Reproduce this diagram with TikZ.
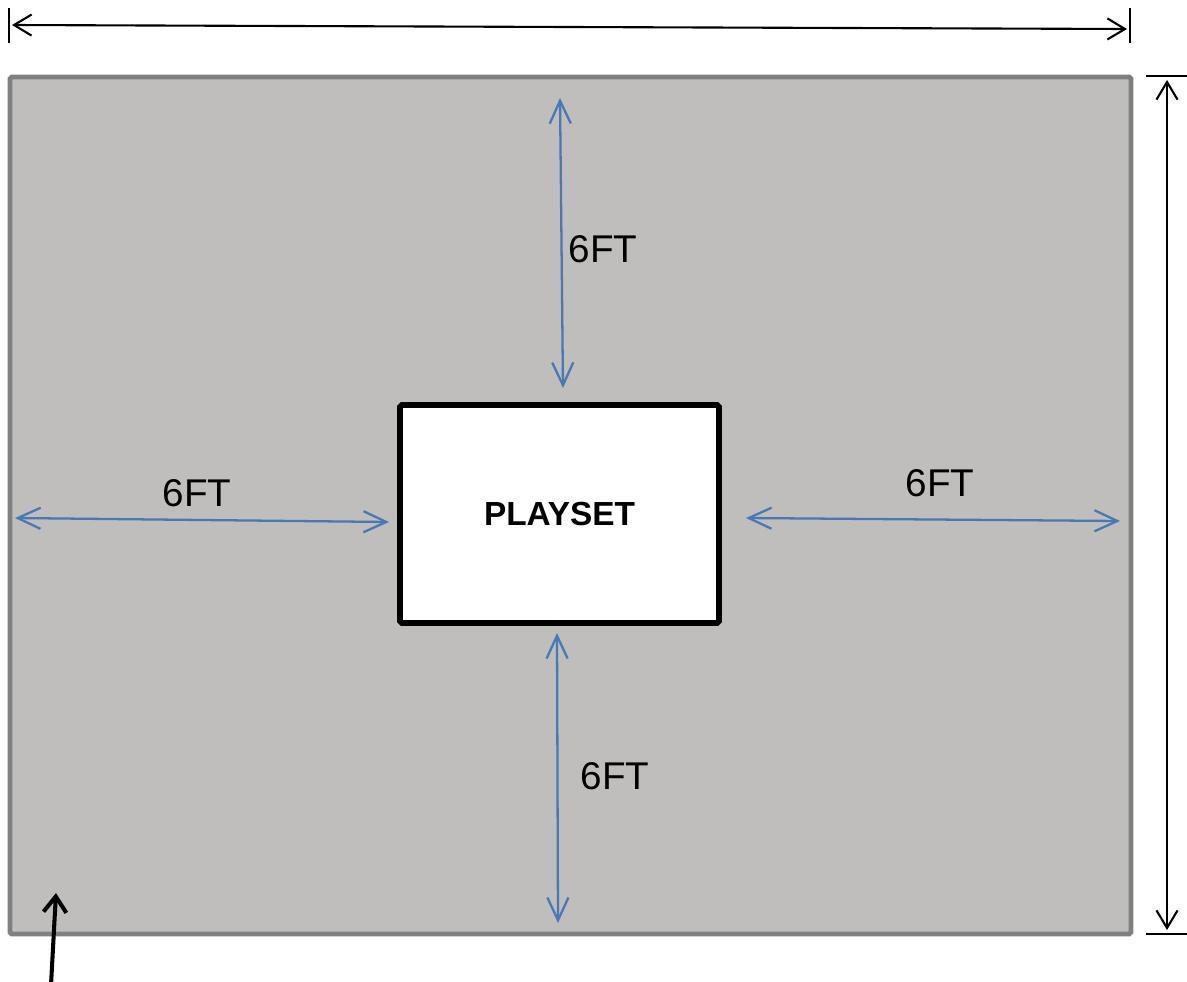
\documentclass[tikz,border=0pt]{standalone}
\usepackage{fontspec}
\setmainfont{Liberation Sans}
\usetikzlibrary{arrows.meta}
\definecolor{yardgray}{HTML}{BFBEBC}
\definecolor{edgegray}{HTML}{808080}
\definecolor{dimblue}{HTML}{4A78B4}

\begin{document}
\begin{tikzpicture}[
		x = 0.02cm, y = -0.02cm,
		dimline/.style = {black, line width=1.2pt, {Straight Barb[length=10pt,width=12pt]}-{Straight Barb[length=10pt,width=12pt]}},
		gap/.style = {dimblue, line width=1.3pt, {Straight Barb[length=13pt,width=12pt]}-{Straight Barb[length=13pt,width=12pt]}},
		gaplabel/.style = {font=\fontsize{22}{24}\selectfont},
		tick/.style = {black, line width=1.2pt}
		]
		\useasboundingbox (0,0) rectangle (1187,981);
		% yard
		\draw[fill=yardgray, draw=edgegray, line width=2.8pt, rounded corners=1pt]
			(10,77) rectangle (1131,934);
		\node[draw, fill=white, line width=3.2pt, rounded corners=1pt,
			minimum width=6.38cm, minimum height=4.36cm,
			font=\bfseries\fontsize{19}{21}\selectfont] (playset) at (559.5,514) {PLAYSET};

		% overall dimensions
		\coordinate (wl) at (12,25);
		\coordinate (wr) at (1127,29);
		\coordinate (ht) at (1167,80);
		\coordinate (hb) at (1167,930);
		\draw[tick] (9,8) -- (9,43);
		\draw[tick] (1130,8) -- (1130,43);
		\draw[tick] (1146,76) -- (1187,76);
		\draw[tick] (1146,934) -- (1187,934);
		\draw[dimline] (wl) -- (wr);
		\draw[dimline] (ht) -- (hb);

		% clearances
		\coordinate (top) at (560,98);
		\coordinate (topin) at (563,388);
		\coordinate (bot) at (558,923);
		\coordinate (botin) at (557,633);
		\coordinate (lft) at (15,518);
		\coordinate (lftin) at (389,522);
		\coordinate (rgt) at (1120,521);
		\coordinate (rgtin) at (746,518);
		\draw[gap] (top) -- (topin);
		\draw[gap] (botin) -- (bot);
		\draw[gap] (lft) -- (lftin);
		\draw[gap] (rgtin) -- (rgt);
		\node[gaplabel] (ltop) at (603,249) {6FT};
		\node[gaplabel] (lbot) at (615,776) {6FT};
		\node[gaplabel] (llft) at (197,493) {6FT};
		\node[gaplabel] (lrgt) at (940,483) {6FT};

		% pointer
		\coordinate (pt) at (56,893);
		\draw[black, line width=2.3pt, -{Straight Barb[length=9pt,width=13pt]}] (51,985) -- (pt);
		\end{tikzpicture}
\end{document}
